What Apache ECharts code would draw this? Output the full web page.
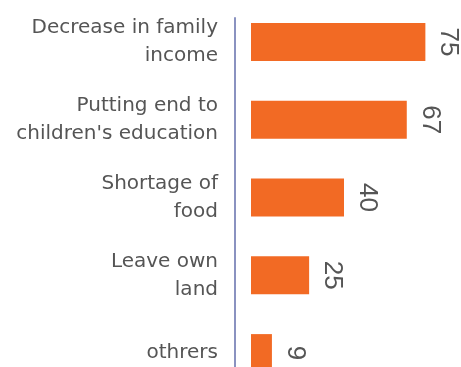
<!DOCTYPE html>
<html>
<head>
<meta charset="utf-8">
<script src="https://cdn.jsdelivr.net/npm/echarts@6/dist/echarts.min.js"></script>
<style>html,body{margin:0;padding:0;background:#fff}#chart{width:461px;height:367px}</style>
</head>
<body>
<div id="chart"></div>
<script>
const categories = ["Decrease in family\nincome", "Putting end to\nchildren's education", "Shortage of\nfood", "Leave own\nland", "othrers"]
const values = [75, 67, 40, 25, 9]
const font = "DejaVu Sans"
const chart = echarts.init(document.getElementById("chart"))
chart.setOption({
  animation: false,
  grid: [
    { left: 251, right: 24, top: 3, bottom: -25, outerBoundsMode: "none" },
    { left: 251, right: 24, top: 18, bottom: 0 }
  ],
  xAxis: [
    { gridIndex: 0, type: "value", min: 0, max: 80, show: false },
    { gridIndex: 1, type: "value", min: 0, max: 1, show: false }
  ],
  yAxis: [
    {
      gridIndex: 0, type: "category", inverse: true, data: categories, offset: 16,
      axisLine: { show: false }, axisTick: { show: false },
      axisLabel: { margin: 17, color: "#555", fontFamily: font, fontSize: 20, lineHeight: 28, align: "right" }
    },
    {
      gridIndex: 1, type: "value", min: 0, max: 1, offset: 16,
      axisLine: { show: true, onZero: false, lineStyle: { color: "#8a92c0", width: 2 } },
      axisTick: { show: false }, axisLabel: { show: false }, splitLine: { show: false }
    }
  ],
  series: [{
    type: "bar", xAxisIndex: 0, yAxisIndex: 0, data: values, barWidth: 38,
    itemStyle: { color: "#f26a24" },
    label: {
      show: true, position: "right", rotate: -90, align: "center", verticalAlign: "bottom", distance: 10,
      color: "#555", fontFamily: "Liberation Sans", fontSize: 26
    }
  }]
})
</script>
</body>
</html>
